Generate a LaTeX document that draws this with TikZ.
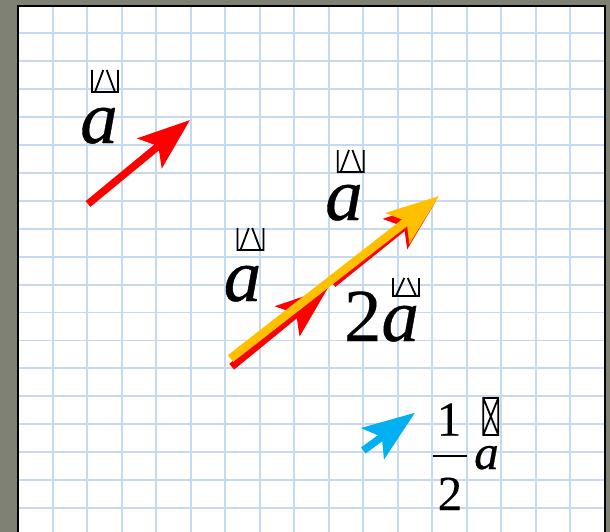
\documentclass[tikz,border=0pt]{standalone}
\usepackage{fontspec}
\setmainfont{Liberation Serif}[ItalicFeatures={FakeBold=0.5}, UprightFeatures={FakeBold=0.2}]
\usetikzlibrary{arrows.meta}
\definecolor{deskgray}{RGB}{126,129,116}
\definecolor{gridblue}{RGB}{197,217,241}
\definecolor{vecred}{RGB}{255,0,0}
\definecolor{vecgold}{RGB}{255,192,0}
\definecolor{vecblue}{RGB}{0,176,240}

\begin{document}
\begin{tikzpicture}[
    x=1pt, y=-1pt,
    gridline/.style={draw=gridblue, line width=1.8pt},
    vec/.style={line width=7.5pt, -{Stealth[length=52pt, width=38pt, inset=11pt]}},
    biglabel/.style={inner sep=0pt, anchor=base, font=\fontsize{75}{75}\selectfont},
    fraclabel/.style={inner sep=0pt, anchor=base, font=\fontsize{49}{49}\selectfont},
    glyph/.style={draw=black, line width=1.8pt},
    halfbox/.pic={\draw[glyph] (-13,0) -- (-13,22) -- (13,22) -- (13,0)
                    (-10,22) -- (-1.7,0) (1.7,0) -- (10,22);}
  ]
  \useasboundingbox (0,0) rectangle (610,532);
  % Desk and paper
  \fill[deskgray] (0,0) rectangle (610,532);
  \fill[white] (18,6) rectangle (605,532);
  \foreach \gx in {1,...,16}
    \draw[gridline] ({18.2+34.5*\gx},6) -- ({18.2+34.5*\gx},532);
  \foreach \gy in {1,...,18}
    \draw[gridline] (18,{5.4+27.92*\gy}) -- (605,{5.4+27.92*\gy});
  \draw[black, line width=2.3pt] (18,532) -- (18,6) -- (605,6) -- (605,532);
  % Vector a
  \coordinate (atail) at (88,204);
  \coordinate (atip) at (190,120);
  \draw[vec, vecred] (atail) -- (atip);
  % 2a as a + a, then 2a on top
  \coordinate (dtail) at (231.7,366.7);
  \coordinate (dmid) at (328,288);
  \coordinate (dnext) at (333,284);
  \coordinate (dtip) at (436,201);
  \draw[vec, vecred] (dtail) -- (dmid);
  \draw[vec, vecred] (dnext) -- (dtip);
  \coordinate (ytail) at (230.5,358.5);
  \coordinate (ytip) at (439,196);
  \draw[vec, vecgold, line width=8.5pt] (ytail) -- (ytip);
  % Half of a
  \coordinate (htail) at (363.3,450.5);
  \coordinate (htip) at (415,412.7);
  \draw[vec, vecblue] (htail) -- (htip);
  % Labels
  \node[biglabel] (lbla) at (99,143) {\itshape a};
  \pic at (105,70) {halfbox};
  \node[biglabel] (lbltop) at (344,220) {\itshape a};
  \pic at (350.7,150) {halfbox};
  \node[biglabel] (lblleft) at (242.5,301) {\itshape a};
  \pic at (250.5,228) {halfbox};
  \node[biglabel] (lbltwo) at (381.5,341) {2\itshape a};
  \pic[yscale=0.82] at (406,278) {halfbox};
  \node[fraclabel] (num) at (449,435.7) {1};
  \node[fraclabel] (den) at (450,510) {2};
  \draw[black, line width=2pt] (433,455.7) -- (466.7,455.7);
  \node[fraclabel] (lblhalf) at (486.5,469) {\itshape a};
  \draw[glyph] (483.3,398) rectangle (498.3,435)
    (483.3,398) -- (498.3,435) (498.3,398) -- (483.3,435);
\end{tikzpicture}
\end{document}
